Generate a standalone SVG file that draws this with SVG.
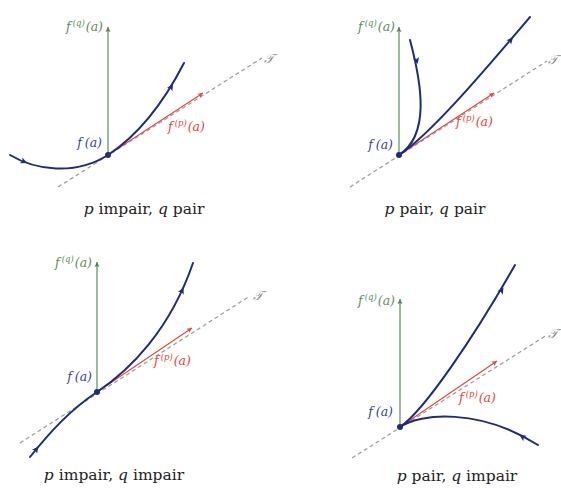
<svg xmlns="http://www.w3.org/2000/svg" width="561" height="488" viewBox="0 0 561 488">
<defs>
<style>
.curve{fill:none;stroke:#1f2b7b;stroke-width:2;stroke-linecap:round}
.tan{fill:none;stroke:#9a9a9a;stroke-width:1.2;stroke-dasharray:4 3}
.vg{stroke:#4f804f;stroke-width:1.1;fill:none}
.vr{stroke:#e6453a;stroke-width:1.1;fill:none}
.lbl{font-family:"DejaVu Serif","Liberation Serif",serif;font-size:12.5px;font-style:italic}
.sup{font-size:8.5px}
.lg{fill:#5f8a5f}
.lr{fill:#e6453a}
.lb{fill:#34449a}
.cap{font-family:"DejaVu Serif","Liberation Serif",serif;font-size:15.5px;fill:#222}
.it{font-style:italic}
.T{font-family:"DejaVu Serif","DejaVu Sans","Noto Sans",serif;font-size:13px;fill:#8a8a8a;font-style:italic}
.pt{fill:#1f2b7b}
.ah{fill:none;stroke:none}
</style>
<marker id="ab" markerUnits="userSpaceOnUse" markerWidth="10" markerHeight="10" refX="0" refY="0" viewBox="-8 -5 10 10" orient="auto">
<path d="M0,0 L-6.5,-3.2 L-5,0 L-6.5,3.2 z" fill="#1f2b7b"/>
</marker>
<marker id="ag" markerUnits="userSpaceOnUse" markerWidth="10" markerHeight="10" refX="0" refY="0" viewBox="-8 -5 10 10" orient="auto">
<path d="M0,0 L-5,-2.5 L-4,0 L-5,2.5 z" fill="#4f804f"/>
</marker>
<marker id="ar" markerUnits="userSpaceOnUse" markerWidth="10" markerHeight="10" refX="0" refY="0" viewBox="-8 -5 10 10" orient="auto">
<path d="M0,0 L-5,-2.5 L-4,0 L-5,2.5 z" fill="#e6453a"/>
</marker>
</defs>
<rect width="561" height="488" fill="#ffffff"/>

<!-- Panel 1: p impair, q pair -->
<g id="panel1">
<line class="tan" x1="58" y1="187" x2="262" y2="58"/>
<text class="T" x="264" y="63">𝒯</text>
<line class="vg" x1="108" y1="155" x2="108" y2="27" marker-end="url(#ag)"/>
<line class="vr" x1="108" y1="155" x2="203" y2="93" marker-end="url(#ar)"/>
<path class="curve" d="M10,155 C35,170 75,176 108,155 C140,134 165,100 184,63"/>
<path class="ah" d="M23,161.2 L27,163" marker-end="url(#ab)"/>
<path class="ah" d="M170,89 L173,84" marker-end="url(#ab)"/>
<circle class="pt" cx="108" cy="155" r="3"/>
<text class="lbl lg" x="103" y="31" text-anchor="end">f<tspan class="sup" dx="2" dy="-5">(q)</tspan><tspan dx="1" dy="5">(a)</tspan></text>
<text class="lbl lb" x="102" y="147" text-anchor="end">f<tspan dx="3">(a)</tspan></text>
<text class="lbl lr" x="168" y="131">f<tspan class="sup" dx="2" dy="-5">(p)</tspan><tspan dx="1" dy="5">(a)</tspan></text>
<text class="cap" x="144" y="214" text-anchor="middle"><tspan class="it">p</tspan> impair, <tspan class="it">q</tspan> pair</text>
</g>

<!-- Panel 2: p pair, q pair -->
<g id="panel2">
<line class="tan" x1="350" y1="187" x2="547" y2="61"/>
<text class="T" x="548" y="64">𝒯</text>
<line class="vg" x1="399" y1="155" x2="399" y2="27" marker-end="url(#ag)"/>
<line class="vr" x1="399" y1="155" x2="494" y2="93" marker-end="url(#ar)"/>
<path class="curve" d="M410,40 C422,85 430,135 399,155"/>
<path class="curve" d="M399,155 C430,135 485,70 530,17"/>
<path class="ah" d="M416,58 L417.6,64" marker-end="url(#ab)"/>
<path class="ah" d="M509,42 L513,37.5" marker-end="url(#ab)"/>
<circle class="pt" cx="399" cy="155" r="3"/>
<text class="lbl lg" x="395" y="31" text-anchor="end">f<tspan class="sup" dx="2" dy="-5">(q)</tspan><tspan dx="1" dy="5">(a)</tspan></text>
<text class="lbl lb" x="393" y="149" text-anchor="end">f<tspan dx="3">(a)</tspan></text>
<text class="lbl lr" x="456" y="126">f<tspan class="sup" dx="2" dy="-5">(p)</tspan><tspan dx="1" dy="5">(a)</tspan></text>
<text class="cap" x="435" y="214" text-anchor="middle"><tspan class="it">p</tspan> pair, <tspan class="it">q</tspan> pair</text>
</g>

<!-- Panel 3: p impair, q impair -->
<g id="panel3">
<line class="tan" x1="20" y1="443" x2="250" y2="296"/>
<text class="T" x="253" y="300">𝒯</text>
<line class="vg" x1="97" y1="392" x2="97" y2="262" marker-end="url(#ag)"/>
<line class="vr" x1="97" y1="392" x2="192" y2="328" marker-end="url(#ar)"/>
<path class="curve" d="M30,457 C50,432 70,410 97,392 C130,370 170,330 193,263"/>
<path class="ah" d="M35,451 L38.5,446.5" marker-end="url(#ab)"/>
<path class="ah" d="M181,293 L183.5,287.5" marker-end="url(#ab)"/>
<circle class="pt" cx="97" cy="392" r="3"/>
<text class="lbl lg" x="92" y="267" text-anchor="end">f<tspan class="sup" dx="2" dy="-5">(q)</tspan><tspan dx="1" dy="5">(a)</tspan></text>
<text class="lbl lb" x="92" y="381" text-anchor="end">f<tspan dx="3">(a)</tspan></text>
<text class="lbl lr" x="154" y="365">f<tspan class="sup" dx="2" dy="-5">(p)</tspan><tspan dx="1" dy="5">(a)</tspan></text>
<text class="cap" x="114" y="480" text-anchor="middle"><tspan class="it">p</tspan> impair, <tspan class="it">q</tspan> impair</text>
</g>

<!-- Panel 4: p pair, q impair -->
<g id="panel4">
<line class="tan" x1="352" y1="458" x2="547" y2="335"/>
<text class="T" x="548" y="338">𝒯</text>
<line class="vg" x1="400" y1="427" x2="400" y2="299" marker-end="url(#ag)"/>
<line class="vr" x1="400" y1="427" x2="497" y2="361" marker-end="url(#ar)"/>
<path class="curve" d="M400,427 C425,410 475,335 515,265"/>
<path class="curve" d="M400,427 C420,413 480,408 538,445"/>
<path class="ah" d="M500,293 L503.5,287.5" marker-end="url(#ab)"/>
<path class="ah" d="M525,438.5 L519.5,435" marker-end="url(#ab)"/>
<circle class="pt" cx="400" cy="427" r="3"/>
<text class="lbl lg" x="395" y="305" text-anchor="end">f<tspan class="sup" dx="2" dy="-5">(q)</tspan><tspan dx="1" dy="5">(a)</tspan></text>
<text class="lbl lb" x="393" y="416" text-anchor="end">f<tspan dx="3">(a)</tspan></text>
<text class="lbl lr" x="459" y="402">f<tspan class="sup" dx="2" dy="-5">(p)</tspan><tspan dx="1" dy="5">(a)</tspan></text>
<text class="cap" x="457" y="481" text-anchor="middle"><tspan class="it">p</tspan> pair, <tspan class="it">q</tspan> impair</text>
</g>
</svg>
